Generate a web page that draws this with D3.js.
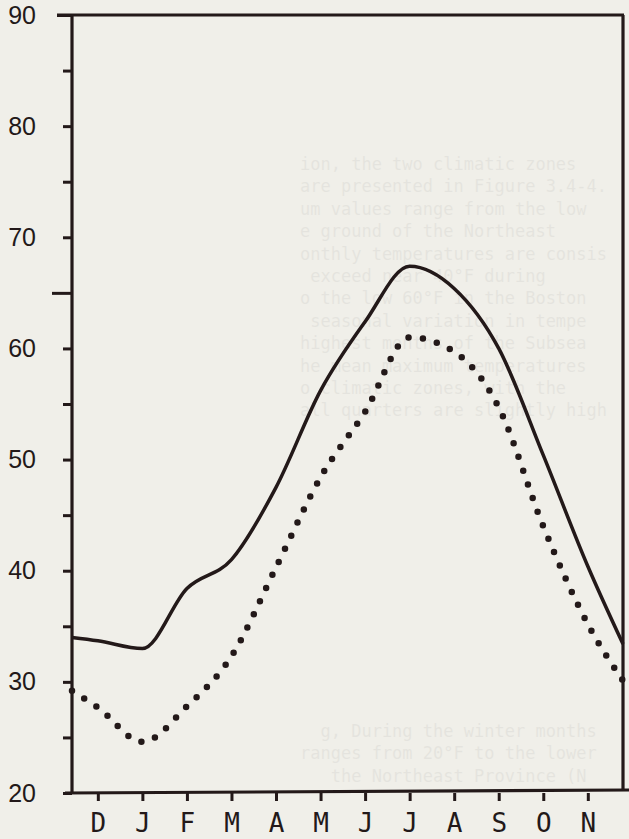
<!DOCTYPE html>
<html>
<head>
<meta charset="utf-8">
<script src="https://cdn.jsdelivr.net/npm/d3@7"></script>
<style>
  html, body { margin: 0; padding: 0; background: #f0efe9; }
  svg { display: block; }
</style>
</head>
<body>
<script>
// month labels along the bottom axis
const months = ['D', 'J', 'F', 'M', 'A', 'M', 'J', 'J', 'A', 'S', 'O', 'N'];
// position of each reading in month steps (first/last are the frame edges)
const monthPos = [-0.58, 0, 1, 2, 3, 4, 5, 6, 7, 8, 9, 10, 11, 11.79];
// solid curve (degrees F)
const solidValues = [34.0, 33.7, 33.0, 38.4, 41.0, 47.5, 56.2, 62.4, 67.4, 65.4, 60.0, 50.4, 40.4, 33.4];
// dotted curve (degrees F)
const dottedValues = [29.2, 27.7, 24.6, 27.8, 32.3, 40.3, 48.4, 54.3, 61.0, 59.7, 54.7, 44.0, 35.2, 30.1];
// y axis ticks
const yTicks = [20, 25, 30, 35, 40, 45, 50, 55, 60, 65, 70, 75, 80, 85, 90];
// faint text showing through from the reverse of the page
const ghostLines = [
    'ion, the two climatic zones',
    'are presented in Figure 3.4-4.',
    'um values range from the low',
    'e ground of the Northeast',
    'onthly temperatures are consis',
    ' exceed near 40\u00b0F during',
    'o the low 60\u00b0F in the Boston',
    ' seasonal variation in tempe',
    'highest months of the Subsea',
    'he mean maximum temperatures',
    'o climatic zones, with the',
    'all quarters are slightly high'
];
const ghostLines2 = [
    '  g, During the winter months',
    'ranges from 20\u00b0F to the lower',
    '   the Northeast Province (N'
];

function main(){
    const width = 629;
    const height = 839;
    const ink = '#231919';

    const svg = d3.select('body')
        .append('svg')
        .attr('width', width)
        .attr('height', height)
        .style('background', '#f0efe9');

    // ghost text
    const ghost = svg.append('g')
        .attr('font-family', '"DejaVu Sans Mono", monospace')
        .attr('font-size', '17px')
        .attr('fill', '#000')
        .attr('opacity', 0.045);
    ghost.selectAll('text.g1')
        .data(ghostLines)
        .enter()
        .append('text')
        .attr('x', 300)
        .attr('y', (d, i) => 170 + i * 22.4)
        .style('white-space', 'pre')
        .text(d => d);
    ghost.selectAll('text.g2')
        .data(ghostLines2)
        .enter()
        .append('text')
        .attr('x', 300)
        .attr('y', (d, i) => 737 + i * 22.4)
        .style('white-space', 'pre')
        .text(d => d);

    const xScale = d3.scaleLinear()
        .domain([monthPos[0], monthPos[monthPos.length - 1]])
        .range([72, 623]);
    const yScale = d3.scaleLinear()
        .domain([20, 90])
        .range([793, 15]);

    // left axis
    const yAxis = svg.append('g')
        .attr('transform', `translate(${xScale.range()[0]},0)`)
        .call(d3.axisLeft(yScale)
            .tickValues(yTicks)
            .tickSize(9)
            .tickSizeOuter(0)
            .tickPadding(27)
            .tickFormat(d => d % 10 === 0 ? d : ''));
    yAxis.select('.domain').remove();
    yAxis.selectAll('line')
        .attr('stroke', ink)
        .attr('stroke-width', 3)
        .attr('x2', d => d === 65 ? -20 : (d === 90 ? -15 : -9));
    yAxis.selectAll('text')
        .attr('font-family', '"Liberation Sans", Arial, sans-serif')
        .attr('font-size', '25px')
        .attr('fill', ink);

    // bottom axis
    const xAxis = svg.append('g')
        .attr('transform', `translate(0,${yScale(20)})`)
        .call(d3.axisBottom(xScale)
            .tickValues(d3.range(months.length))
            .tickSize(8)
            .tickSizeOuter(0)
            .tickPadding(13)
            .tickFormat(i => months[i]));
    xAxis.select('.domain').remove();
    xAxis.selectAll('line')
        .attr('stroke', ink)
        .attr('stroke-width', 3);
    xAxis.selectAll('text')
        .attr('font-family', '"DejaVu Sans Mono", monospace')
        .attr('font-size', '26px')
        .attr('fill', ink);

    // frame
    const x0 = xScale.range()[0], x1 = xScale.range()[1];
    const yTop = yScale(90), yBot = yScale(20);
    const frame = svg.append('g')
        .attr('stroke', ink)
        .attr('stroke-width', 3.2)
        .attr('fill', 'none');
    frame.append('line').attr('x1', x0).attr('x2', x0).attr('y1', yTop).attr('y2', yBot + 1);
    frame.append('line').attr('x1', x0 - 15).attr('x2', x1 + 1).attr('y1', yTop).attr('y2', yTop);
    frame.append('line').attr('x1', x1).attr('x2', x1).attr('y1', yTop).attr('y2', yBot - 3);
    frame.append('line').attr('x1', x0 - 7).attr('x2', width).attr('y1', yBot).attr('y2', yBot - 3);

    const solid = monthPos.map((p, i) => ({p: p, v: solidValues[i]}));
    const dotted = monthPos.map((p, i) => ({p: p, v: dottedValues[i]}));

    const line = d3.line()
        .x(d => xScale(d.p))
        .y(d => yScale(d.v))
        .curve(d3.curveMonotoneX);

    svg.append('path')
        .datum(solid)
        .attr('d', line)
        .attr('fill', 'none')
        .attr('stroke', ink)
        .attr('stroke-width', 3.5);

    svg.append('path')
        .datum(dotted)
        .attr('d', line)
        .attr('fill', 'none')
        .attr('stroke', ink)
        .attr('stroke-width', 6.5)
        .attr('stroke-linecap', 'round')
        .attr('stroke-dasharray', '0 14.5');
}

main()
</script>
</body>
</html>
